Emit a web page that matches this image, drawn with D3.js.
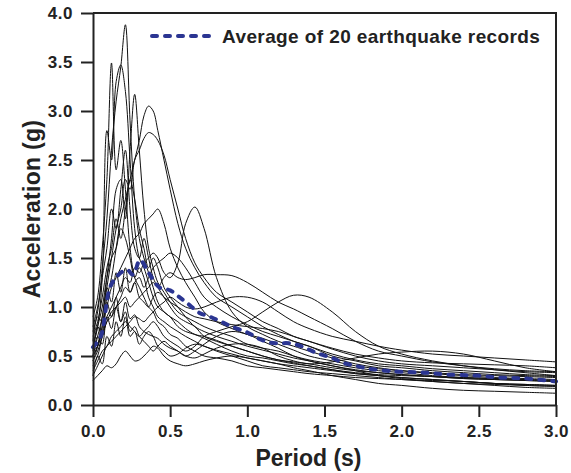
<!DOCTYPE html>
<html>
<head>
<meta charset="utf-8">
<script src="https://cdn.jsdelivr.net/npm/d3@7"></script>
<style>
  body { margin: 0; background: #fff; }
  text { font-family: "Liberation Sans", Arial, Helvetica, sans-serif; font-weight: bold; fill: #222; }
</style>
</head>
<body>
<div id="chart"></div>
<script>
// periods (s) shared by the 20 record spectra
var periods = [0, 0.03, 0.06, 0.09, 0.12, 0.15, 0.18, 0.21, 0.24, 0.27, 0.30, 0.33, 0.36, 0.39, 0.42,
  0.46, 0.50, 0.55, 0.60, 0.66, 0.72, 0.80, 0.90, 1.00, 1.10, 1.20, 1.30, 1.40, 1.55, 1.70, 1.85,
  2.00, 2.20, 2.40, 2.60, 2.80, 3.00];

// spectral acceleration (g) of each record
var rec01 = [0.75, 0.95, 1.4, 1.9, 2.6, 3.1, 3.45, 3.88, 2.9, 2.1, 1.7, 1.5, 1.35, 1.2, 1.05, 0.95, 0.9, 0.8, 0.75, 0.72, 0.68, 0.62, 0.55, 0.5, 0.48, 0.45, 0.42, 0.4, 0.36, 0.32, 0.3, 0.28, 0.26, 0.24, 0.22, 0.2, 0.19];
var rec02 = [0.9, 1.1, 1.6, 2.3, 3.49, 2.4, 2.7, 2.2, 1.6, 1.3, 1.2, 1.1, 1.0, 0.95, 0.85, 0.8, 0.72, 0.68, 0.6, 0.55, 0.5, 0.48, 0.45, 0.4, 0.38, 0.36, 0.34, 0.32, 0.3, 0.28, 0.27, 0.26, 0.25, 0.24, 0.22, 0.21, 0.2];
var rec03 = [0.6, 0.8, 1.3, 2.8, 2.5, 3.3, 3.47, 3.2, 2.5, 1.8, 1.5, 1.4, 1.25, 1.1, 1.0, 0.95, 0.9, 0.85, 0.78, 0.72, 0.7, 0.66, 0.6, 0.55, 0.5, 0.46, 0.44, 0.42, 0.38, 0.35, 0.33, 0.31, 0.29, 0.27, 0.26, 0.25, 0.24];
var rec04 = [0.5, 0.7, 0.9, 1.3, 1.7, 2.2, 2.3, 1.9, 2.6, 3.17, 2.6, 2.0, 1.6, 1.4, 1.25, 1.15, 1.05, 0.95, 0.9, 0.85, 0.8, 0.75, 0.7, 0.62, 0.58, 0.55, 0.5, 0.46, 0.42, 0.38, 0.35, 0.33, 0.3, 0.28, 0.27, 0.26, 0.25];
var rec05 = [0.55, 0.6, 0.8, 1.1, 1.3, 1.6, 1.9, 2.1, 2.3, 2.5, 2.7, 2.95, 3.05, 3.0, 2.8, 2.5, 2.2, 1.85, 1.6, 1.4, 1.25, 1.1, 1.0, 0.9, 0.8, 0.72, 0.65, 0.6, 0.52, 0.46, 0.42, 0.4, 0.37, 0.35, 0.33, 0.31, 0.3];
var rec06 = [0.45, 0.6, 0.9, 1.2, 1.5, 1.8, 2.0, 2.3, 2.2, 2.5, 2.6, 2.72, 2.78, 2.76, 2.7, 2.55, 2.3, 2.0, 1.7, 1.45, 1.3, 1.15, 1.05, 0.95, 0.85, 0.78, 0.7, 0.65, 0.57, 0.5, 0.45, 0.42, 0.4, 0.38, 0.36, 0.34, 0.33];
var rec07 = [0.5, 0.6, 0.75, 0.9, 1.0, 1.1, 1.2, 1.3, 1.25, 1.4, 1.35, 1.45, 1.5, 1.55, 1.5, 1.35, 1.3, 1.45, 1.85, 2.02, 1.8, 1.3, 0.95, 0.8, 0.72, 0.65, 0.6, 0.55, 0.48, 0.42, 0.38, 0.35, 0.32, 0.3, 0.28, 0.27, 0.26];
var rec08 = [0.4, 0.5, 0.7, 0.85, 0.95, 1.0, 1.05, 1.1, 1.0, 1.05, 1.1, 1.15, 1.2, 1.25, 1.2, 1.3, 1.35, 1.3, 1.28, 1.3, 1.33, 1.33, 1.32, 1.25, 1.15, 1.05, 0.98, 0.9, 0.78, 0.65, 0.55, 0.5, 0.44, 0.4, 0.37, 0.35, 0.34];
var rec09 = [0.35, 0.45, 0.55, 0.6, 0.7, 0.75, 0.8, 0.85, 0.8, 0.75, 0.7, 0.75, 0.8, 0.85, 0.8, 0.7, 0.65, 0.6, 0.55, 0.6, 0.7, 0.75, 0.8, 0.85, 0.95, 1.05, 1.12, 1.1, 0.95, 0.75, 0.6, 0.52, 0.45, 0.4, 0.36, 0.33, 0.3];
var rec10 = [0.3, 0.4, 0.5, 0.6, 0.65, 0.7, 0.75, 0.8, 0.85, 0.9, 0.88, 0.85, 0.9, 0.95, 1.0, 1.05, 1.1, 1.05, 1.0, 0.98, 1.0, 1.05, 1.1, 1.1, 1.05, 0.95, 0.85, 0.78, 0.7, 0.65, 0.6, 0.56, 0.52, 0.5, 0.48, 0.46, 0.44];
var rec11 = [0.5, 0.7, 0.62, 0.9, 0.78, 1.0, 0.85, 1.05, 0.88, 0.92, 0.8, 0.75, 0.72, 0.7, 0.68, 0.62, 0.58, 0.55, 0.5, 0.48, 0.52, 0.58, 0.62, 0.62, 0.58, 0.5, 0.45, 0.42, 0.44, 0.48, 0.52, 0.54, 0.55, 0.52, 0.45, 0.38, 0.34];
var rec12 = [0.25, 0.3, 0.35, 0.4, 0.38, 0.42, 0.5, 0.55, 0.5, 0.45, 0.46, 0.5, 0.55, 0.6, 0.58, 0.5, 0.45, 0.42, 0.4, 0.42, 0.45, 0.48, 0.5, 0.48, 0.45, 0.42, 0.38, 0.35, 0.3, 0.26, 0.22, 0.2, 0.17, 0.15, 0.14, 0.13, 0.12];
var rec13 = [0.55, 0.8, 0.7, 1.05, 0.9, 1.1, 0.85, 0.95, 0.75, 0.8, 0.7, 0.65, 0.6, 0.55, 0.6, 0.65, 0.6, 0.55, 0.5, 0.55, 0.62, 0.7, 0.75, 0.72, 0.65, 0.58, 0.5, 0.45, 0.4, 0.35, 0.3, 0.27, 0.24, 0.22, 0.2, 0.18, 0.17];
var rec14 = [0.6, 0.8, 1.0, 1.3, 1.5, 1.6, 1.8, 1.7, 1.5, 1.3, 1.4, 1.3, 1.1, 1.0, 0.9, 0.85, 0.8, 0.75, 0.7, 0.65, 0.6, 0.56, 0.52, 0.48, 0.45, 0.42, 0.4, 0.38, 0.35, 0.32, 0.3, 0.28, 0.26, 0.24, 0.22, 0.21, 0.2];
var rec15 = [0.7, 0.85, 1.1, 1.4, 1.6, 1.9, 1.7, 2.0, 2.3, 2.1, 1.8, 1.6, 1.4, 1.5, 1.4, 1.2, 1.1, 1.0, 0.9, 0.8, 0.75, 0.7, 0.65, 0.6, 0.56, 0.52, 0.48, 0.45, 0.4, 0.36, 0.33, 0.31, 0.29, 0.27, 0.26, 0.25, 0.24];
var rec16 = [0.8, 1.0, 1.3, 1.6, 2.0, 1.8, 2.2, 2.6, 2.0, 1.6, 1.5, 1.7, 1.5, 1.3, 1.2, 1.1, 1.0, 0.9, 0.85, 0.8, 0.7, 0.65, 0.6, 0.55, 0.5, 0.46, 0.43, 0.4, 0.36, 0.33, 0.31, 0.3, 0.29, 0.28, 0.27, 0.26, 0.25];
var rec17 = [0.45, 0.55, 0.7, 0.85, 0.9, 1.0, 1.1, 1.2, 1.15, 1.25, 1.3, 1.2, 1.3, 1.4, 1.45, 1.5, 1.55, 1.5, 1.4, 1.25, 1.1, 1.0, 0.9, 0.82, 0.75, 0.7, 0.65, 0.6, 0.5, 0.45, 0.4, 0.38, 0.35, 0.33, 0.31, 0.3, 0.29];
var rec18 = [0.5, 0.6, 0.8, 1.0, 1.2, 1.3, 1.4, 1.5, 1.6, 1.7, 1.75, 1.85, 1.9, 1.95, 2.0, 1.85, 1.6, 1.4, 1.25, 1.1, 0.95, 0.85, 0.78, 0.72, 0.68, 0.62, 0.56, 0.5, 0.45, 0.4, 0.37, 0.35, 0.33, 0.31, 0.3, 0.29, 0.28];
var rec19 = [0.3, 0.5, 0.42, 0.7, 0.6, 0.85, 0.7, 0.9, 0.7, 0.75, 0.62, 0.7, 0.75, 0.7, 0.6, 0.55, 0.5, 0.52, 0.58, 0.62, 0.6, 0.55, 0.5, 0.45, 0.4, 0.38, 0.36, 0.34, 0.32, 0.3, 0.28, 0.26, 0.24, 0.22, 0.21, 0.2, 0.19];
var rec20 = [0.65, 0.9, 0.85, 1.2, 1.05, 1.35, 1.15, 1.4, 1.15, 1.25, 1.1, 1.05, 1.0, 1.1, 1.15, 1.1, 1.05, 1.0, 0.95, 0.9, 0.88, 0.85, 0.82, 0.8, 0.78, 0.75, 0.7, 0.65, 0.58, 0.52, 0.48, 0.45, 0.43, 0.42, 0.41, 0.4, 0.38];

var records = [rec01, rec02, rec03, rec04, rec05, rec06, rec07, rec08, rec09, rec10,
  rec11, rec12, rec13, rec14, rec15, rec16, rec17, rec18, rec19, rec20];

// average of the 20 records (blue dashed line)
var avgPeriods = [0, 0.05, 0.11, 0.16, 0.22, 0.26, 0.305, 0.36, 0.43, 0.5, 0.56, 0.61, 0.69, 0.76,
  0.83, 0.9, 1.0, 1.07, 1.14, 1.2, 1.27, 1.35, 1.45, 1.55, 1.62, 1.7, 1.79, 1.9, 1.98, 2.15, 2.3,
  2.5, 2.63, 2.8, 3.0];
var avgValues = [0.59, 0.7, 1.2, 1.32, 1.38, 1.33, 1.48, 1.35, 1.2, 1.17, 1.1, 1.04, 0.94, 0.9,
  0.85, 0.8, 0.74, 0.68, 0.64, 0.63, 0.63, 0.6, 0.53, 0.48, 0.43, 0.4, 0.37, 0.35, 0.34, 0.33,
  0.31, 0.3, 0.28, 0.27, 0.24];

var xTicks = [0, 0.5, 1.0, 1.5, 2.0, 2.5, 3.0];
var yTicks = [0, 0.5, 1.0, 1.5, 2.0, 2.5, 3.0, 3.5, 4.0];
var legendLabel = 'Average of 20 earthquake records';

var svgWidth = 571;
var svgHeight = 473;
var margin = { top: 13, right: 15, bottom: 68, left: 93 };
var width = svgWidth - margin.left - margin.right;
var height = svgHeight - margin.top - margin.bottom;

var svg = d3.select('#chart')
  .append('svg')
  .attr('width', svgWidth)
  .attr('height', svgHeight);

var chartGroup = svg.append('g')
  .attr('transform', `translate(${margin.left}, ${margin.top})`);

var xScale = d3.scaleLinear().domain([0, 3]).range([0, width]);
var yScale = d3.scaleLinear().domain([0, 4]).range([height, 0]);

var line = d3.line()
  .x(d => xScale(d[0]))
  .y(d => yScale(d[1]))
  .curve(d3.curveCatmullRom.alpha(0.5));

// record spectra
chartGroup.selectAll('.rec')
  .data(records)
  .enter()
  .append('path')
  .attr('class', 'rec')
  .attr('d', r => line(r.map((v, i) => [periods[i], v])))
  .attr('fill', 'none')
  .attr('stroke', '#111')
  .attr('stroke-width', 1);

// average
chartGroup.append('path')
  .attr('d', line(avgValues.map((v, i) => [avgPeriods[i], v])))
  .attr('fill', 'none')
  .attr('stroke', '#2b3592')
  .attr('stroke-width', 4)
  .attr('stroke-linecap', 'round')
  .attr('stroke-dasharray', '5,8');

// frame (top and right)
chartGroup.append('path')
  .attr('d', `M0,0H${width}V${height}`)
  .attr('fill', 'none')
  .attr('stroke', '#222')
  .attr('stroke-width', 2);

// axes
var bottomAxis = d3.axisBottom(xScale).tickValues(xTicks).tickFormat(d3.format('.1f'))
  .tickSizeInner(12).tickSizeOuter(0).tickPadding(8);
var leftAxis = d3.axisLeft(yScale).tickValues(yTicks).tickFormat(d3.format('.1f'))
  .tickSizeInner(12).tickSizeOuter(0).tickPadding(8);

var xAxisG = chartGroup.append('g')
  .attr('transform', `translate(0, ${height})`)
  .call(bottomAxis);
var yAxisG = chartGroup.append('g')
  .call(leftAxis);

[xAxisG, yAxisG].forEach(function(g) {
  g.select('.domain').attr('stroke', '#222').attr('stroke-width', 2);
  g.selectAll('.tick line').attr('stroke', '#222').attr('stroke-width', 2);
  g.selectAll('.tick text')
    .attr('font-size', 17)
    .attr('letter-spacing', 0.5)
    .attr('font-family', '"Liberation Sans", Arial, sans-serif')
    .attr('font-weight', 'bold')
    .attr('fill', '#222');
});

// axis titles
svg.append('text')
  .attr('x', margin.left + width / 2 - 16)
  .attr('y', 466)
  .attr('text-anchor', 'middle')
  .attr('font-size', 23)
  .text('Period (s)');

svg.append('text')
  .attr('transform', `translate(40, ${margin.top + height / 2}) rotate(-90)`)
  .attr('text-anchor', 'middle')
  .attr('font-size', 23)
  .attr('letter-spacing', 0.3)
  .text('Acceleration (g)');

// legend
var legend = chartGroup.append('g')
  .attr('transform', 'translate(57, 23)');
legend.append('line')
  .attr('x1', 2).attr('x2', 118 - 57)
  .attr('y1', 0).attr('y2', 0)
  .attr('stroke', '#2b3592')
  .attr('stroke-width', 4)
  .attr('stroke-linecap', 'round')
  .attr('stroke-dasharray', '5,8');
legend.append('text')
  .attr('x', 72)
  .attr('y', 6.5)
  .attr('font-size', 19)
  .attr('letter-spacing', 0.4)
  .text(legendLabel);
</script>
</body>
</html>
